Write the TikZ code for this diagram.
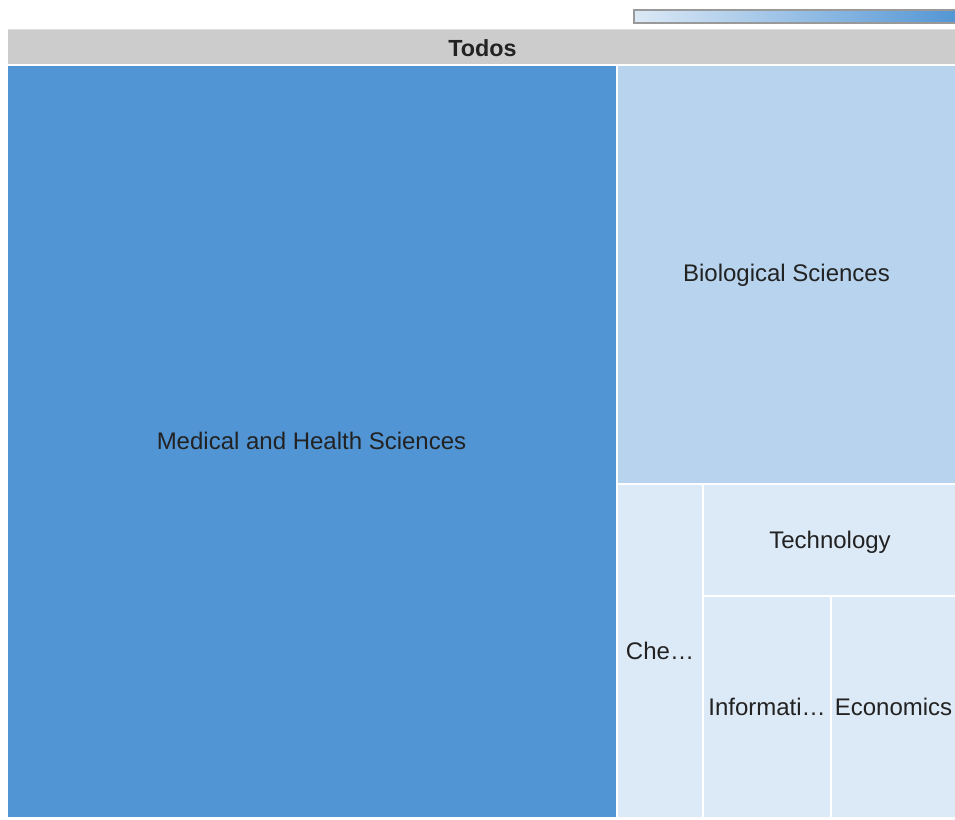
\documentclass[tikz,border=0pt]{standalone}
\usepackage{fontspec}
\setmainfont{Liberation Sans}
\usepackage{tikz}
\definecolor{hdr}{HTML}{CCCCCC}
\definecolor{dark}{HTML}{5295D4}
\definecolor{mid}{HTML}{B7D3ED}
\definecolor{pale}{HTML}{DCE9F6}
\definecolor{ink}{HTML}{222222}
\tikzset{lbl/.style={text=ink,font=\fontsize{18}{20}\selectfont,inner sep=0pt}}

\begin{document}
\begin{tikzpicture}[x=0.75pt,y=-0.75pt]
\useasboundingbox (0,0) rectangle (955,819);
\fill [white] (0,0) rectangle (955,819);
\shade [left color=pale,right color=dark,draw=black!40,line width=1.5pt] (633.5,10) rectangle (960,22.5);
\draw [black!13,line width=0.75pt] (8,29.5) -- (955,29.5);
\fill [hdr] (8,30) rectangle (955,64);
\node [text=ink,font=\bfseries\fontsize{17.5}{19}\selectfont] (todos) at (482.5,48) {Todos};

\fill [dark] (8,66) rectangle (615.5,817);
\node [lbl] (med) at (311.5,441) {Medical and Health Sciences};
\fill [mid] (617.5,66) rectangle (955,483);
\node [lbl] (bio) at (786.5,275.5) {Biological Sciences};
\fill [pale] (617.5,485) rectangle (702,817);
\node [lbl] (che) at (660,651) {Che…};
\fill [pale] (704,485) rectangle (955,595);
\node [lbl] (tech) at (830,542) {Technology};
\fill [pale] (704,597) rectangle (830,817);
\node [lbl] (info) at (767,707) {Informati…};
\fill [pale] (832,597) rectangle (955,817);
\node [lbl] (econ) at (893.5,707) {Economics};
\end{tikzpicture}
\end{document}
